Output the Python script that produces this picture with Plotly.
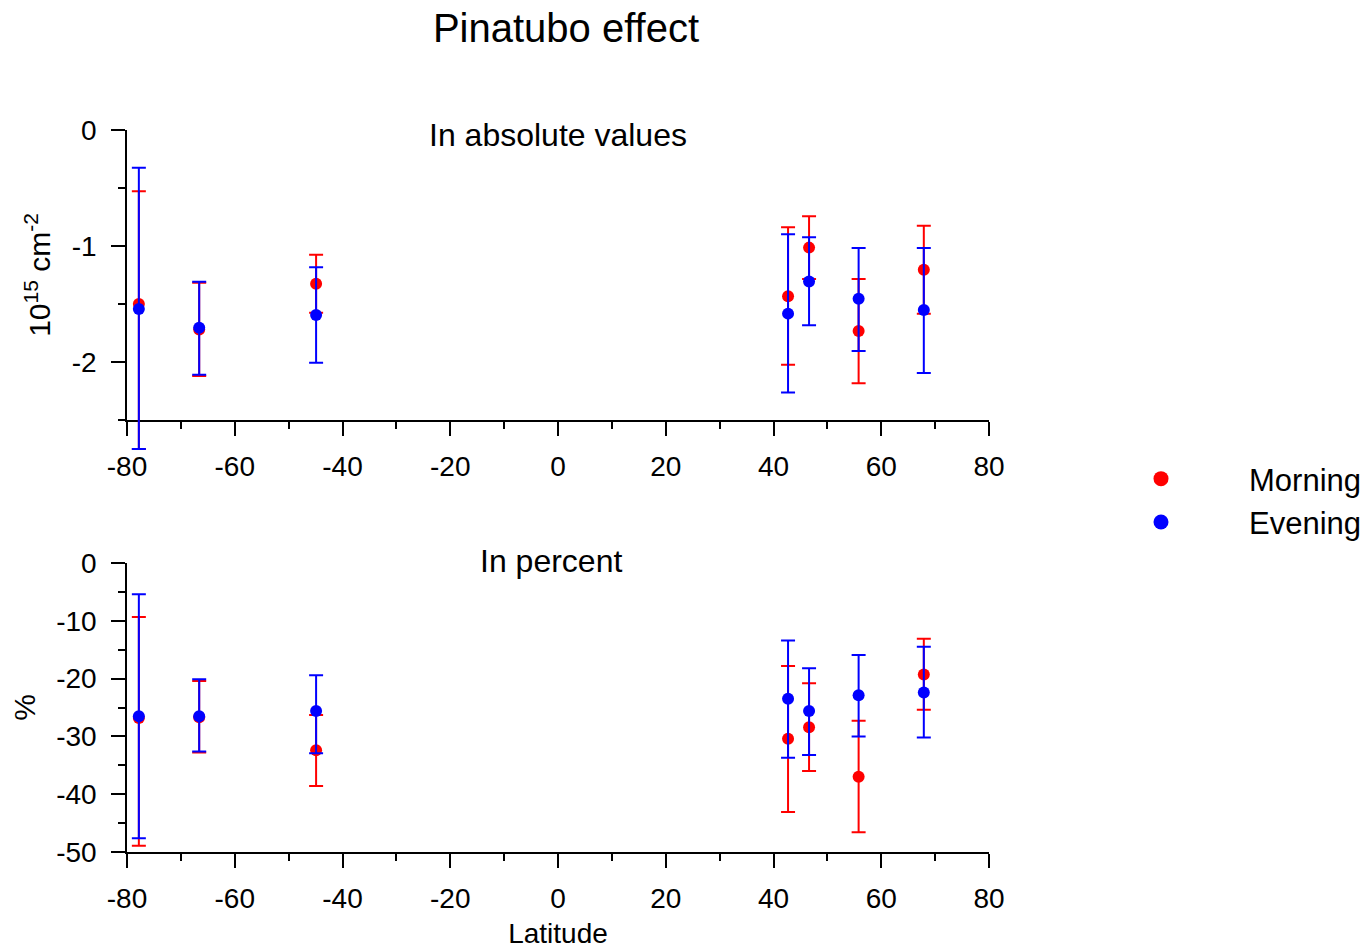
import numpy as np
import plotly.graph_objects as go

# ---- data ----
latitude = [-77.8, -66.6, -44.9, 42.7, 46.6, 55.8, 67.9]

# absolute values (10^15 cm^-2)
abs_morning = [-1.50, -1.72, -1.325, -1.434, -1.014, -1.733, -1.204]
abs_morning_hi = [-0.528, -1.317, -1.075, -0.839, -0.744, -1.284, -0.825]
abs_morning_lo = [-2.75, -2.12, -1.575, -2.023, -1.284, -2.184, -1.583]
abs_evening = [-1.543, -1.704, -1.595, -1.583, -1.307, -1.454, -1.552]
abs_evening_hi = [-0.325, -1.308, -1.184, -0.899, -0.925, -1.017, -1.017]
abs_evening_lo = [-2.75, -2.11, -2.006, -2.264, -1.684, -1.905, -2.095]

# percent
pct_morning = [-26.8, -26.7, -32.4, -30.4, -28.4, -37.0, -19.3]
pct_morning_hi = [-9.34, -20.4, -26.3, -17.8, -20.8, -27.3, -13.1]
pct_morning_lo = [-48.9, -32.8, -38.6, -43.1, -36.0, -46.6, -25.4]
pct_evening = [-26.5, -26.5, -25.6, -23.5, -25.6, -22.9, -22.4]
pct_evening_hi = [-5.42, -20.1, -19.4, -13.4, -18.2, -15.9, -14.5]
pct_evening_lo = [-47.6, -32.6, -32.9, -33.7, -33.2, -30.0, -30.2]

# tick labels
x_tickvals = [-80, -60, -40, -20, 0, 20, 40, 60, 80]
x_ticktext = ["-80", "-60", "-40", "-20", "0", "20", "40", "60", "80"]
abs_tickvals = [0, -1, -2]
abs_ticktext = ["0", "-1", "-2"]
pct_tickvals = [0, -10, -20, -30, -40, -50]
pct_ticktext = ["0", "-10", "-20", "-30", "-40", "-50"]

RED = "#FF0000"
BLUE = "#0000FF"
FONT = "Liberation Sans, Arial, sans-serif"

# page body adds an 8px margin; the figure is sized to fit the window
OFF = 8
W, H = 1369 - OFF, 950 - OFF


def px(x):
    return (x - OFF) / W


def py(y):
    return 1 - (y - OFF) / H


X_DOM = [px(127), px(989)]
TOP_PX = (130, 420)
BOT_PX = (563, 852)
ABS_RANGE = [-2.5, 0]
PCT_RANGE = [-50, 0]

# an invisible data layer for the upper panel, same scale but taller clip
# region, so the long error bars can run past the axis as in the original
EXT_BOTTOM_PX = 470
abs_per_px = (ABS_RANGE[1] - ABS_RANGE[0]) / (TOP_PX[1] - TOP_PX[0])
ext_range = [ABS_RANGE[1] - (EXT_BOTTOM_PX - TOP_PX[0]) * abs_per_px, ABS_RANGE[1]]

fig = go.Figure()

# empty trace so the visible upper axes are drawn
fig.add_trace(
    go.Scatter(x=[None], y=[None], xaxis="x", yaxis="y", mode="markers",
               showlegend=False, hoverinfo="skip")
)


def add_series(xa, ya, vals, hi, lo, color, name):
    v = np.array(vals)
    fig.add_trace(
        go.Scatter(
            x=latitude,
            y=vals,
            xaxis=xa,
            yaxis=ya,
            mode="markers",
            name=name,
            legendgroup=name,
            showlegend=False,
            cliponaxis=False,
            marker=dict(color=color, size=12, line=dict(width=0)),
            error_y=dict(
                type="data",
                symmetric=False,
                array=(np.array(hi) - v).tolist(),
                arrayminus=(v - np.array(lo)).tolist(),
                color=color,
                thickness=2,
                width=7,
            ),
        )
    )


add_series("x3", "y3", abs_morning, abs_morning_hi, abs_morning_lo, RED, "Morning")
add_series("x3", "y3", abs_evening, abs_evening_hi, abs_evening_lo, BLUE, "Evening")
add_series("x2", "y2", pct_morning, pct_morning_hi, pct_morning_lo, RED, "Morning")
add_series("x2", "y2", pct_evening, pct_evening_hi, pct_evening_lo, BLUE, "Evening")

# legend entries
for name, color in [("Morning", RED), ("Evening", BLUE)]:
    fig.add_trace(
        go.Scatter(
            x=[None],
            y=[None],
            xaxis="x3",
            yaxis="y3",
            mode="markers",
            name=name,
            legendgroup=name,
            showlegend=True,
            marker=dict(color=color, size=15, line=dict(width=0)),
        )
    )

minor_style = dict(ticklen=7, ticks="outside", tickcolor="black", tickwidth=1.5)
axis_common = dict(
    showline=True,
    linecolor="black",
    linewidth=1.5,
    ticks="outside",
    ticklen=14,
    tickwidth=1.5,
    tickcolor="black",
    showgrid=False,
    zeroline=False,
    automargin=False,
    tickfont=dict(family=FONT, size=28, color="black"),
)
xaxis_common = dict(
    axis_common,
    range=[-80, 80],
    tickmode="array",
    tickvals=x_tickvals,
    ticktext=x_ticktext,
    domain=X_DOM,
    minor=dict(dtick=10, tick0=0, **minor_style),
    ticklabelstandoff=7,
)

fig.update_layout(
    xaxis=dict(xaxis_common, anchor="y"),
    yaxis=dict(
        axis_common,
        anchor="x",
        range=ABS_RANGE,
        tickmode="array",
        tickvals=abs_tickvals,
        ticktext=abs_ticktext,
        minor=dict(dtick=0.5, tick0=0, **minor_style),
        domain=[py(TOP_PX[1]), py(TOP_PX[0])],
        ticklabelstandoff=9,
        title=dict(text="10<sup>15</sup> cm<sup>-2</sup>", font=dict(family=FONT, size=30, color="black"), standoff=12),
    ),
    xaxis2=dict(
        xaxis_common,
        anchor="y2",
        title=dict(text="Latitude", font=dict(family=FONT, size=28, color="black"), standoff=10),
    ),
    yaxis2=dict(
        axis_common,
        anchor="x2",
        range=PCT_RANGE,
        tickmode="array",
        tickvals=pct_tickvals,
        ticktext=pct_ticktext,
        minor=dict(dtick=5, tick0=0, **minor_style),
        domain=[py(BOT_PX[1]), py(BOT_PX[0])],
        ticklabelstandoff=9,
        title=dict(text="%", font=dict(family=FONT, size=30, color="black"), standoff=12),
    ),
    xaxis3=dict(visible=False, anchor="y3", range=[-80, 80], domain=X_DOM, fixedrange=True),
    yaxis3=dict(
        visible=False,
        anchor="x3",
        range=ext_range,
        domain=[py(EXT_BOTTOM_PX), py(TOP_PX[0])],
        fixedrange=True,
    ),
)

fig.update_layout(
    width=W,
    height=H,
    margin=dict(l=0, r=0, t=0, b=0),
    paper_bgcolor="white",
    plot_bgcolor="rgba(0,0,0,0)",
    font=dict(family=FONT, color="black"),
    title=dict(
        text="Pinatubo effect",
        x=px(566),
        xanchor="center",
        y=py(28),
        yanchor="middle",
        font=dict(family=FONT, size=40, color="black"),
    ),
    legend=dict(
        x=1065 / W,
        y=1 - 444 / H,
        xanchor="left",
        yanchor="top",
        itemwidth=166,
        tracegroupgap=0,
        font=dict(family=FONT, size=31, color="black"),
        bgcolor="rgba(0,0,0,0)",
        itemsizing="trace",
    ),
    annotations=[
        dict(
            text="In absolute values",
            x=px(558),
            y=py(135),
            xref="paper",
            yref="paper",
            xanchor="center",
            yanchor="middle",
            showarrow=False,
            font=dict(family=FONT, size=32, color="black"),
        ),
        dict(
            text="In percent",
            x=px(551),
            y=py(561),
            xref="paper",
            yref="paper",
            xanchor="center",
            yanchor="middle",
            showarrow=False,
            font=dict(family=FONT, size=32, color="black"),
        ),
    ],
)

fig.write_html("out.html")
